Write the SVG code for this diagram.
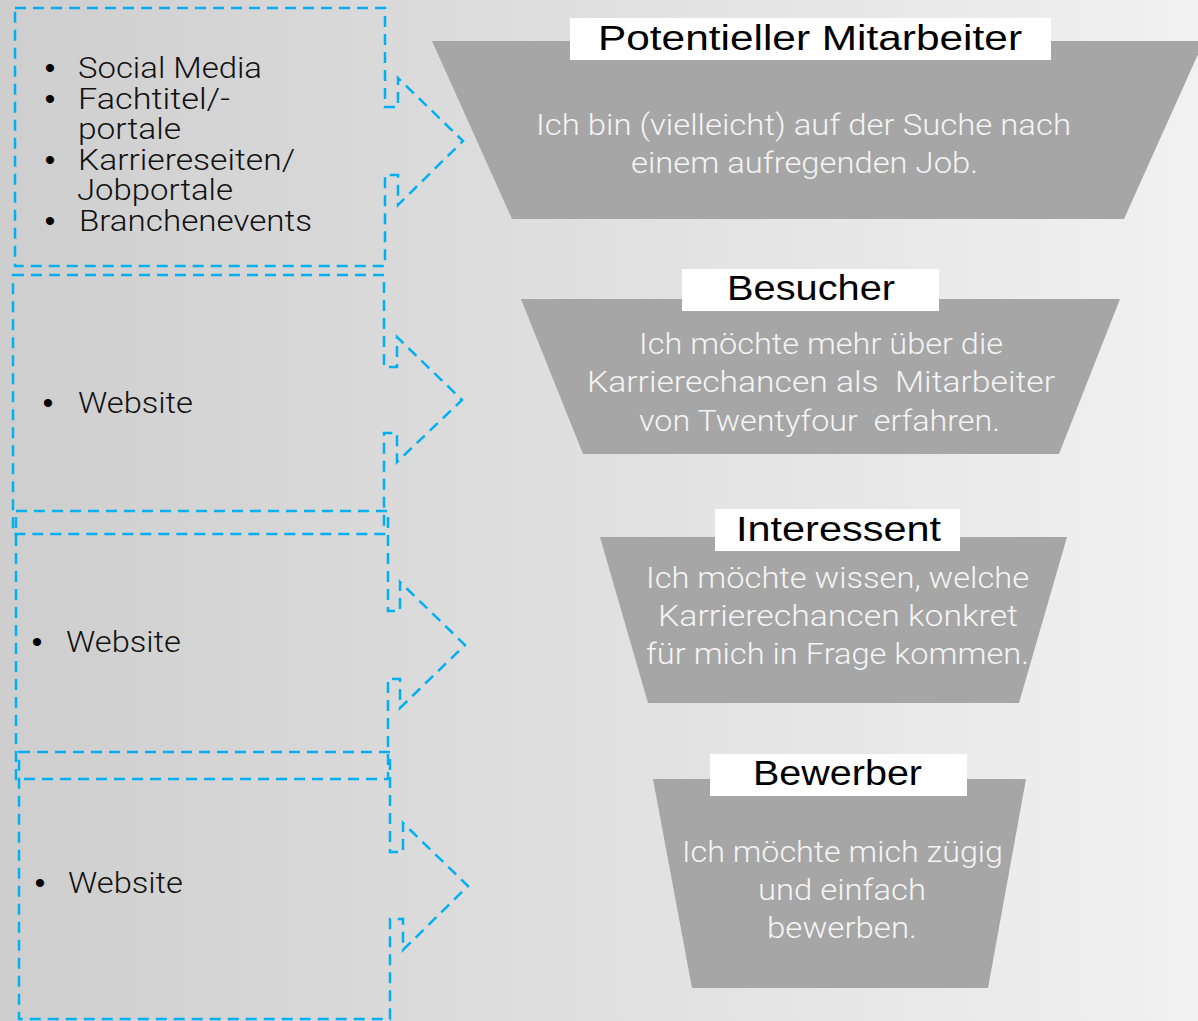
<svg xmlns="http://www.w3.org/2000/svg" width="1198" height="1021" viewBox="0 0 1198 1021">
  <defs>
    <linearGradient id="bg" x1="0" y1="0" x2="1" y2="0">
      <stop offset="0" stop-color="#cecece"/>
      <stop offset="0.5" stop-color="#e0e0e0"/>
      <stop offset="1" stop-color="#f1f1f1"/>
    </linearGradient>
  </defs>
  <style>
    .callout { fill: none; stroke: #00b0f0; stroke-width: 2.5; stroke-dasharray: 11 7; }
    .funnel { fill: #a6a6a6; }
    .tbox { fill: #ffffff; }
    .title { font-family: "Liberation Sans", Arial, sans-serif; font-size: 35px; fill: #000000; text-anchor: middle; }
    .body { font-family: Roboto, "Open Sans", "Liberation Sans", sans-serif; font-weight: 300; font-size: 30px; fill: #f4f4f4; text-anchor: middle; white-space: pre; }
    .item { font-family: Roboto, "Open Sans", "Liberation Sans", sans-serif; font-weight: 300; font-size: 30px; fill: #111111; }
    .bullet { font-family: "Liberation Sans", Arial, sans-serif; font-size: 30px; fill: #000000; text-anchor: middle; }
  </style>
  <rect x="0" y="0" width="1198" height="1021" fill="url(#bg)"/>

  <g id="connectors"/>

  <g id="channel-1">
    <path class="callout" d="M15,8 H385 V107 H398 V78 L463,141 L398,205 V175 H385 V266 H15 Z"/>
    <text class="bullet" x="50" y="78">•</text>
    <text class="item" x="78" y="78" textLength="184" lengthAdjust="spacingAndGlyphs">Social Media</text>
    <text class="bullet" x="50" y="108.5">•</text>
    <text class="item" x="78" y="108.5" textLength="152" lengthAdjust="spacingAndGlyphs">Fachtitel/-</text>
    <text class="item" x="78" y="139" textLength="103" lengthAdjust="spacingAndGlyphs">portale</text>
    <text class="bullet" x="50" y="169.7">•</text>
    <text class="item" x="78" y="169.7" textLength="217" lengthAdjust="spacingAndGlyphs">Karriereseiten/</text>
    <text class="item" x="77" y="200.3" textLength="156" lengthAdjust="spacingAndGlyphs">Jobportale</text>
    <text class="bullet" x="50" y="231">•</text>
    <text class="item" x="79" y="231" textLength="233" lengthAdjust="spacingAndGlyphs">Branchenevents</text>
  </g>

  <g id="channel-2">
    <path class="callout" d="M13,275 H384 V367 H397 V337 L462,400 L397,462 V433 H384 V534 H13 Z"/>
    <text class="bullet" x="48" y="413">•</text>
    <text class="item" x="78" y="413" textLength="115" lengthAdjust="spacingAndGlyphs">Website</text>
  </g>

  <g id="channel-3">
    <path class="callout" d="M16,511 H388 V611 H400 V582 L465,645 L400,708 V679 H388 V779 H16 Z"/>
    <text class="bullet" x="37" y="652">•</text>
    <text class="item" x="66" y="652" textLength="115" lengthAdjust="spacingAndGlyphs">Website</text>
  </g>

  <g id="channel-4">
    <path class="callout" d="M19,752 H390 V852 H403 V823 L468,886 L403,950 V919 H390 V1019 H19 Z"/>
    <text class="bullet" x="40" y="893">•</text>
    <text class="item" x="68" y="893" textLength="115" lengthAdjust="spacingAndGlyphs">Website</text>
  </g>

  <g id="stage-potentieller-mitarbeiter">
    <polygon class="funnel" points="432,41 1204,41 1124,219 512,219"/>
    <rect class="tbox" x="570" y="18" width="481" height="42"/>
    <text class="title" x="810" y="50" textLength="424" lengthAdjust="spacingAndGlyphs">Potentieller Mitarbeiter</text>
    <text class="body" x="803.5" y="135" textLength="535" lengthAdjust="spacingAndGlyphs">Ich bin (vielleicht) auf der Suche nach</text>
    <text class="body" x="804.5" y="173" textLength="347" lengthAdjust="spacingAndGlyphs">einem aufregenden Job.</text>
  </g>

  <g id="stage-besucher">
    <polygon class="funnel" points="521,299 1120,299 1059,454 583,454"/>
    <rect class="tbox" x="682" y="269" width="257" height="42"/>
    <text class="title" x="811" y="300" textLength="168" lengthAdjust="spacingAndGlyphs">Besucher</text>
    <text class="body" x="821" y="354" textLength="364" lengthAdjust="spacingAndGlyphs">Ich möchte mehr über die</text>
    <text class="body" x="821" y="392" textLength="468" lengthAdjust="spacingAndGlyphs">Karrierechancen als  Mitarbeiter</text>
    <text class="body" x="819.5" y="431" textLength="361" lengthAdjust="spacingAndGlyphs">von Twentyfour  erfahren.</text>
  </g>

  <g id="stage-interessent">
    <polygon class="funnel" points="600,537 1067,537 1019,703 648,703"/>
    <rect class="tbox" x="715" y="509" width="245" height="42"/>
    <text class="title" x="838.5" y="541" textLength="205" lengthAdjust="spacingAndGlyphs">Interessent</text>
    <text class="body" x="837.5" y="588" textLength="383" lengthAdjust="spacingAndGlyphs">Ich möchte wissen, welche</text>
    <text class="body" x="838" y="626" textLength="360" lengthAdjust="spacingAndGlyphs">Karrierechancen konkret</text>
    <text class="body" x="837.5" y="664" textLength="383" lengthAdjust="spacingAndGlyphs">für mich in Frage kommen.</text>
  </g>

  <g id="stage-bewerber">
    <polygon class="funnel" points="653,779 1026,779 988,988 692,988"/>
    <rect class="tbox" x="710" y="754" width="257" height="42"/>
    <text class="title" x="837.5" y="785" textLength="169" lengthAdjust="spacingAndGlyphs">Bewerber</text>
    <text class="body" x="842.5" y="862" textLength="321" lengthAdjust="spacingAndGlyphs">Ich möchte mich zügig</text>
    <text class="body" x="842" y="900" textLength="168" lengthAdjust="spacingAndGlyphs">und einfach</text>
    <text class="body" x="842" y="938" textLength="150" lengthAdjust="spacingAndGlyphs">bewerben.</text>
  </g>
</svg>
